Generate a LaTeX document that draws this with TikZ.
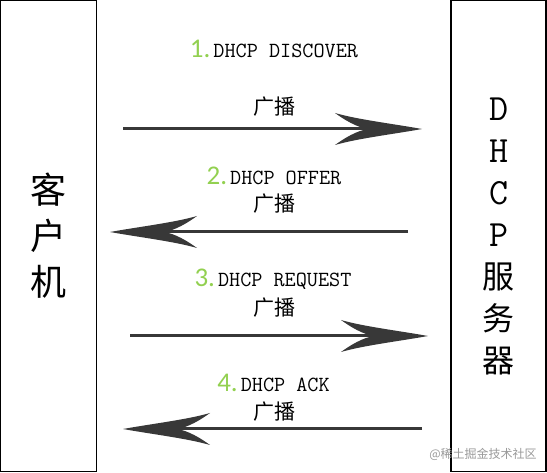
\documentclass[tikz,border=0pt]{standalone}
\usepackage{fontspec}
\newfontfamily\cjk{Noto Sans CJK SC}
\newfontfamily\numfont{Carlito}
\usetikzlibrary{arrows.meta, positioning}
\definecolor{numgreen}{RGB}{146,208,80}
\definecolor{arrowgray}{RGB}{56,56,56}

\pgfdeclarearrow{
  name = Swoosh,
  parameters = {\the\pgfarrowlength,\the\pgfarrowwidth},
  setup code = {
    \pgfarrowssettipend{0pt}
    \pgfarrowssetlineend{-.5\pgfarrowlength}
    \pgfarrowssetbackend{-\pgfarrowlength}
    \pgfarrowshullpoint{0pt}{0pt}
    \pgfarrowshullpoint{-\pgfarrowlength}{.5\pgfarrowwidth}
    \pgfarrowshullpoint{-\pgfarrowlength}{-.5\pgfarrowwidth}
    \pgfarrowssavethe\pgfarrowlength
    \pgfarrowssavethe\pgfarrowwidth
  },
  drawing code = {
    \pgfpathmoveto{\pgfpointorigin}
    \pgfpathcurveto{\pgfqpoint{-.35\pgfarrowlength}{.17\pgfarrowwidth}}{\pgfqpoint{-.75\pgfarrowlength}{.3\pgfarrowwidth}}{\pgfqpoint{-\pgfarrowlength}{.5\pgfarrowwidth}}
    \pgfpathcurveto{\pgfqpoint{-.9\pgfarrowlength}{.3\pgfarrowwidth}}{\pgfqpoint{-.75\pgfarrowlength}{.05\pgfarrowwidth}}{\pgfqpoint{-.62\pgfarrowlength}{0pt}}
    \pgfpathcurveto{\pgfqpoint{-.75\pgfarrowlength}{-.05\pgfarrowwidth}}{\pgfqpoint{-.9\pgfarrowlength}{-.3\pgfarrowwidth}}{\pgfqpoint{-\pgfarrowlength}{-.5\pgfarrowwidth}}
    \pgfpathcurveto{\pgfqpoint{-.75\pgfarrowlength}{-.3\pgfarrowwidth}}{\pgfqpoint{-.35\pgfarrowlength}{-.17\pgfarrowwidth}}{\pgfpointorigin}
    \pgfpathclose
    \pgfusepathqfill
  },
  defaults = {length = 87pt, width = 32pt}
}

\tikzset{
  host/.style={draw=black, line width=1.5pt, align=center, inner sep=0pt},
  msg/.style={font=\ttfamily\fontsize{21.6}{22}\selectfont, anchor=base},
  bcast/.style={font=\cjk\fontsize{21}{21}\selectfont},
  flow/.style={arrowgray, line width=3pt, -{Swoosh}},
}
\newcommand{\stepno}[1]{{\numfont\color{numgreen}\fontsize{27}{27}\selectfont #1}\hspace{3pt}}

\begin{document}
\begin{tikzpicture}[x=1pt, y=-1pt]
\useasboundingbox (0,0) rectangle (547,473);
% the two hosts
\node [host, minimum width=95.75pt, minimum height=470.75pt, font=\cjk\fontsize{36}{46}\selectfont] (client) at (48.6,236.1) {客\\户\\机};
\node [host, minimum width=95.25pt, minimum height=470.75pt, font=\fontsize{32}{42}\selectfont] (server) at (498.6,236.1)
  {{\ttfamily\fontsize{37}{42}\selectfont D}\\{\ttfamily\fontsize{37}{42}\selectfont H}\\{\ttfamily\fontsize{37}{42}\selectfont C}\\{\ttfamily\fontsize{37}{42}\selectfont P}\\\cjk 服\\\cjk 务\\\cjk 器};
% 1. discover
\node [msg] (msg1) at (274,58) {\stepno{1.}DHCP DISCOVER};
\node [bcast] (bc1) at (274,107) {广播};
\coordinate (s1) at (123,129);
\coordinate (e1) at (422,129);
\draw[flow] (s1) -- (e1);
% 2. offer
\node [msg] (msg2) at (274,185) {\stepno{2.}DHCP OFFER};
\node [bcast] (bc2) at (274,204) {广播};
\coordinate (s2) at (408,232);
\coordinate (e2) at (110,232);
\draw[flow] (s2) -- (e2);
% 3. request
\node [msg] (msg3) at (273,287) {\stepno{3.}DHCP REQUEST};
\node [bcast] (bc3) at (274,308) {广播};
\coordinate (s3) at (130,336);
\coordinate (e3) at (428,336);
\draw[flow] (s3) -- (e3);
% 4. ack
\node [msg] (msg4) at (273.5,392) {\stepno{4.}DHCP ACK};
\node [bcast] (bc4) at (274,412) {广播};
\coordinate (s4) at (422,429);
\coordinate (e4) at (123,429);
\draw[flow] (s4) -- (e4);
\node [font=\cjk\fontsize{12}{12}\selectfont, text=black!40] (mark) at (483,454) {@稀土掘金技术社区};
\end{tikzpicture}
\end{document}
